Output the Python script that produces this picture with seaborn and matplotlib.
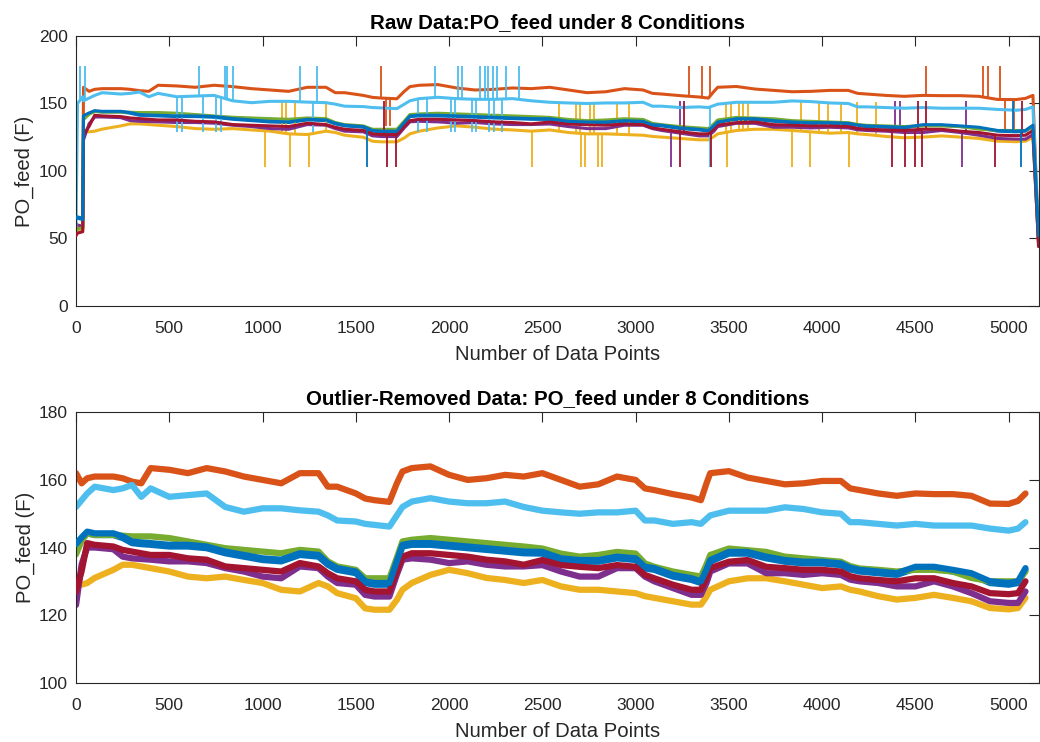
import numpy as np
import pandas as pd
import matplotlib
matplotlib.use("Agg")
import matplotlib.pyplot as plt
import seaborn as sns

# ---------------- data ----------------
conditions = [f"Condition {i}" for i in range(1, 9)]
colors = ['#0072BD', '#D95319', '#EDB120', '#7E2F8E', '#77AC30', '#4DBEEE', '#A2142F', '#0072BD']

# sample positions (data-point index) of the outlier-removed series
x_clean = [0, 30, 60, 100, 200, 250, 300, 350, 400, 500, 600, 700, 800, 900, 1000, 1100,
           1200, 1300, 1350, 1400, 1500, 1550, 1600, 1680, 1720, 1750, 1800, 1900, 2000,
           2100, 2200, 2300, 2400, 2500, 2600, 2700, 2800, 2900, 3000, 3050, 3100, 3200,
           3300, 3350, 3380, 3400, 3500, 3600, 3700, 3800, 3900, 4000, 4100, 4150, 4200,
           4300, 4400, 4500, 4600, 4700, 4800, 4900, 5000, 5050, 5090]

c1_blue = [140.5, 142.5, 144.2, 143.7, 143.7, 142.8, 141.3, 141.0, 140.8, 140.3, 140.3, 139.8,
           138.3, 137.3, 136.3, 135.9, 137.8, 137.3, 134.9, 133.4, 132.4, 129.5, 129.0, 129.0,
           135.5, 140.3, 140.8, 140.8, 140.3, 139.8, 139.3, 138.8, 138.3, 138.2, 136.3, 135.8,
           135.8, 136.8, 136.3, 133.8, 133.4, 131.4, 130.4, 129.5, 133.0, 135.8, 138.2, 138.2,
           136.8, 135.8, 135.3, 135.3, 134.8, 133.5, 132.9, 132.4, 131.9, 133.8, 133.8, 132.9,
           131.9, 129.5, 129.0, 129.5, 133.4]
c2_orange = [162.0, 159.0, 160.5, 161.0, 161.0, 160.5, 159.5, 159.0, 163.5, 163.0, 162.0, 163.5,
             162.5, 161.0, 160.0, 159.0, 162.0, 162.0, 158.0, 158.0, 156.0, 154.5, 154.0, 153.5,
             159.0, 162.5, 163.5, 164.0, 161.5, 160.0, 160.5, 161.5, 161.0, 162.0, 160.0, 158.0,
             158.7, 161.0, 160.0, 157.5, 157.0, 155.8, 154.8, 154.0, 159.0, 162.0, 162.6, 160.7,
             159.7, 158.7, 159.0, 159.7, 159.7, 157.5, 157.0, 156.0, 155.3, 156.0, 155.8, 155.8,
             155.3, 153.0, 152.9, 153.8, 156.0]
c3_yellow = [130.0, 129.0, 129.5, 131.0, 133.4, 134.9, 134.9, 134.4, 133.9, 132.9, 131.4, 130.9,
             131.4, 130.4, 129.5, 127.5, 127.0, 129.5, 128.5, 126.5, 125.0, 122.0, 121.6, 121.6,
             124.5, 127.5, 129.5, 131.9, 133.4, 132.4, 131.0, 130.4, 129.5, 130.4, 128.5, 127.5,
             127.5, 127.0, 126.5, 125.6, 125.1, 124.1, 123.1, 123.1, 125.5, 127.5, 130.0, 130.9,
             130.9, 130.0, 129.0, 128.0, 128.5, 127.5, 127.0, 125.6, 124.6, 125.1, 126.0, 125.1,
             124.1, 122.1, 121.7, 122.1, 125.1]
c4_purple = [123.0, 135.0, 140.0, 140.0, 139.5, 137.3, 136.8, 136.6, 136.4, 135.9, 135.9, 135.4,
             133.9, 132.9, 131.4, 130.9, 134.4, 133.9, 131.4, 129.5, 129.0, 126.0, 125.5, 125.5,
             132.0, 136.4, 136.8, 136.4, 135.4, 135.9, 134.9, 134.4, 134.4, 134.8, 132.9, 131.4,
             131.4, 133.9, 133.9, 131.4, 130.0, 128.0, 126.0, 126.0, 129.5, 132.9, 135.3, 135.3,
             132.4, 132.4, 131.9, 132.4, 131.9, 130.5, 130.0, 129.5, 128.5, 128.5, 130.0, 128.5,
             126.5, 124.1, 123.6, 123.6, 127.0]
c5_green = [138.0, 142.0, 144.2, 143.7, 143.7, 143.5, 143.3, 143.3, 143.3, 142.8, 141.8, 140.8,
            139.8, 139.3, 138.8, 138.3, 139.3, 138.8, 135.9, 134.4, 133.4, 130.9, 130.9, 130.9,
            137.0, 141.8, 142.3, 142.8, 142.3, 141.8, 141.3, 140.8, 140.3, 139.7, 138.2, 137.3,
            137.8, 138.7, 138.2, 135.3, 134.3, 132.9, 131.9, 131.4, 135.0, 137.8, 139.7, 139.2,
            138.7, 137.3, 136.8, 136.3, 135.8, 134.5, 133.8, 133.4, 132.9, 133.4, 133.4, 132.9,
            131.0, 130.0, 130.0, 130.0, 132.9]
c6_lightblue = [152.0, 154.0, 156.0, 158.0, 157.0, 157.5, 158.5, 155.0, 157.5, 155.0, 155.5, 156.0,
                152.0, 150.6, 151.6, 151.6, 151.0, 150.6, 149.5, 148.0, 147.7, 147.0, 146.7, 146.2,
                149.5, 152.0, 153.6, 154.6, 153.6, 153.1, 153.1, 153.6, 152.0, 150.9, 150.4, 150.0,
                150.4, 150.4, 150.9, 148.0, 148.0, 147.0, 147.5, 147.0, 148.5, 149.5, 150.9, 150.9,
                150.9, 151.9, 151.4, 150.4, 150.0, 147.5, 147.5, 147.0, 146.5, 147.0, 146.5, 146.5,
                146.5, 145.6, 145.0, 145.6, 147.5]
c7_darkred = [127.0, 133.0, 141.3, 140.8, 140.3, 139.3, 138.8, 138.3, 137.8, 137.8, 136.8, 136.4,
              134.4, 133.9, 133.4, 132.9, 135.4, 134.4, 132.4, 130.9, 130.0, 127.5, 127.0, 127.0,
              133.0, 137.3, 138.3, 138.3, 137.8, 137.3, 136.4, 135.9, 134.9, 136.3, 134.8, 134.3,
              133.9, 134.8, 134.3, 131.9, 130.9, 129.0, 127.5, 127.5, 131.0, 133.9, 135.8, 136.3,
              134.3, 133.9, 133.4, 133.4, 132.9, 131.5, 130.9, 130.4, 130.0, 130.9, 130.9, 129.5,
              128.5, 126.5, 126.2, 126.5, 130.0]
c8_blue = [141.0, 143.0, 144.7, 144.2, 144.2, 143.3, 141.8, 141.5, 141.3, 140.8, 140.8, 140.3,
           138.8, 137.8, 136.8, 136.4, 138.3, 137.8, 135.4, 133.9, 132.9, 130.0, 129.5, 129.5,
           136.0, 140.8, 141.3, 141.3, 140.8, 140.3, 139.8, 139.3, 138.8, 138.7, 136.8, 136.3,
           136.3, 137.3, 136.8, 134.3, 133.9, 131.9, 130.9, 130.0, 133.5, 136.3, 138.7, 138.7,
           137.3, 136.3, 135.8, 135.8, 135.3, 134.0, 133.4, 132.9, 132.4, 134.3, 134.3, 133.4,
           132.4, 130.0, 129.5, 130.0, 133.9]
clean_values = [c1_blue, c2_orange, c3_yellow, c4_purple, c5_green, c6_lightblue, c7_darkred, c8_blue]

# raw data: start-up segment, shift of the steady part, shut-down value
raw_start_x = [0, 8, 36]
raw_start_values = [[67, 66, 65], [58, 57.5, 57], [57, 56, 56], [61, 60, 59],
                    [56, 57, 58], [60, 150, 155], [52, 54, 55], [66, 65, 64]]
raw_shift = 40
raw_end_x = 5160
raw_end_values = [50, 48, 47, 46, 48, 50, 44, 52]

# outlier spikes in the raw data: (index, extreme value)
spikes = {
    "Condition 1": [],
    "Condition 2": [(1636, 178), (3287, 178), (3355, 178), (3401, 178), (4554, 178),
                    (4863, 178), (4888, 178), (4955, 178), (1663, 133), (1684, 133),
                    (4979, 130), (5030, 130)],
    "Condition 3": [(1105, 151), (1128, 151), (1172, 151), (1338, 151), (2591, 151),
                    (2680, 151), (2702, 151), (2755, 151), (2778, 151), (2900, 151),
                    (2966, 151), (3483, 151), (3510, 151), (3555, 151), (3576, 151),
                    (3603, 151), (3885, 151), (3983, 151), (4031, 151), (4099, 151),
                    (4185, 151), (4287, 151), (1012, 103), (1146, 103), (1247, 103),
                    (2443, 103), (2707, 103), (2729, 103), (2800, 103), (2818, 103),
                    (3489, 103), (3837, 103), (3935, 103), (4143, 103)],
    "Condition 4": [(3189, 103), (4747, 103), (3239, 152), (4393, 152), (4416, 152), (4772, 152)],
    "Condition 5": [],
    "Condition 6": [(21, 178), (48, 178), (660, 178), (798, 178), (812, 178), (842, 178),
                    (1200, 178), (1292, 178), (1927, 178), (2047, 178), (2070, 178),
                    (2168, 178), (2190, 178), (2211, 178), (2236, 178), (2259, 178),
                    (2307, 178), (2377, 178), (539, 129), (566, 129), (682, 129), (753, 129),
                    (775, 129), (1270, 129), (1833, 129), (1883, 129), (2012, 129), (2034, 129),
                    (2122, 129), (2145, 129), (2216, 129), (2240, 129), (2284, 129), (3400, 103)],
    "Condition 7": [(1667, 103), (1713, 103), (3239, 103), (3405, 103), (4372, 103),
                    (4443, 103), (4500, 103), (4536, 103), (4925, 103), (1650, 152),
                    (3260, 152), (4513, 152), (4559, 152), (5071, 152)],
    "Condition 8": [(1561, 103), (5068, 103), (5021, 152)],
}

x_ticks = [0, 500, 1000, 1500, 2000, 2500, 3000, 3500, 4000, 4500, 5000]

# ---------------- tables for seaborn ----------------
clean_rows, raw_rows = [], []
for name, vals, sv, ev in zip(conditions, clean_values, raw_start_values, raw_end_values):
    for x, v in zip(x_clean, vals):
        clean_rows.append((name, x, v))
    for x, v in zip(raw_start_x, sv):
        raw_rows.append((name, x, v))
    for x, v in zip(x_clean, vals):
        raw_rows.append((name, x + raw_shift, v))
    raw_rows.append((name, raw_end_x, ev))
clean_df = pd.DataFrame(clean_rows, columns=["condition", "index", "PO_feed"])
raw_df = pd.DataFrame(raw_rows, columns=["condition", "index", "PO_feed"])

# ---------------- style ----------------
sns.set_theme(style="white")
plt.rcParams['font.family'] = ['Liberation Sans', 'DejaVu Sans']
ink = '#262626'
palette = dict(zip(conditions, colors))

fig = plt.figure(figsize=(10.4, 7.42), dpi=100)
ax1 = fig.add_axes([0.0731, 0.5876, 0.9255, 0.3639])
ax2 = fig.add_axes([0.0731, 0.0799, 0.9255, 0.3644])

sns.lineplot(data=raw_df, x="index", y="PO_feed", hue="condition", hue_order=conditions,
             palette=palette, estimator=None, sort=False, legend=False, linewidth=2.2, ax=ax1)
sns.lineplot(data=clean_df, x="index", y="PO_feed", hue="condition", hue_order=conditions,
             palette=palette, estimator=None, sort=False, legend=False, linewidth=4.5, ax=ax2)

# stack like MATLAB: each condition (with its spikes) above the previous one
for i, line in enumerate(ax1.lines):
    line.set_zorder(2 + i * 0.1)
for i, line in enumerate(ax2.lines):
    line.set_zorder(2 + i * 0.1)

for i, name in enumerate(conditions):
    sp = spikes[name]
    if not sp:
        continue
    d = raw_df[raw_df.condition == name]
    sx = [s[0] for s in sp]
    sy = [s[1] for s in sp]
    base = np.interp(sx, d["index"].to_numpy(), d["PO_feed"].to_numpy())
    ax1.vlines(sx, base, sy, colors=colors[i], linewidth=1.3, zorder=2 + i * 0.1)

for ax, title, ylim, yticks in [
        (ax1, "Raw Data:PO_feed under 8 Conditions", (0, 200), [0, 50, 100, 150, 200]),
        (ax2, "Outlier-Removed Data: PO_feed under 8 Conditions", (100, 180), [100, 120, 140, 160, 180])]:
    ax.set_xlim(0, 5160)
    ax.set_ylim(*ylim)
    ax.set_xticks(x_ticks)
    ax.set_yticks(yticks)
    ax.set_xlabel("Number of Data Points", fontsize=14.6, color=ink, labelpad=6.5)
    ax.set_ylabel("PO_feed (F)", fontsize=14.6, color=ink, labelpad=3)
    ax.set_title(title, fontsize=14.8, fontweight='bold', color='black', pad=6)
    ax.tick_params(axis='x', direction='in', length=7, width=0.8, top=True,
                   labelsize=12.5, colors=ink, pad=11)
    ax.tick_params(axis='y', direction='in', length=7, width=0.8, right=True,
                   labelsize=12.5, colors=ink, pad=6)
    for s in ax.spines.values():
        s.set_color(ink)
        s.set_linewidth(0.8)
        s.set_visible(True)

fig.savefig("out.png", dpi=100, facecolor='white')
